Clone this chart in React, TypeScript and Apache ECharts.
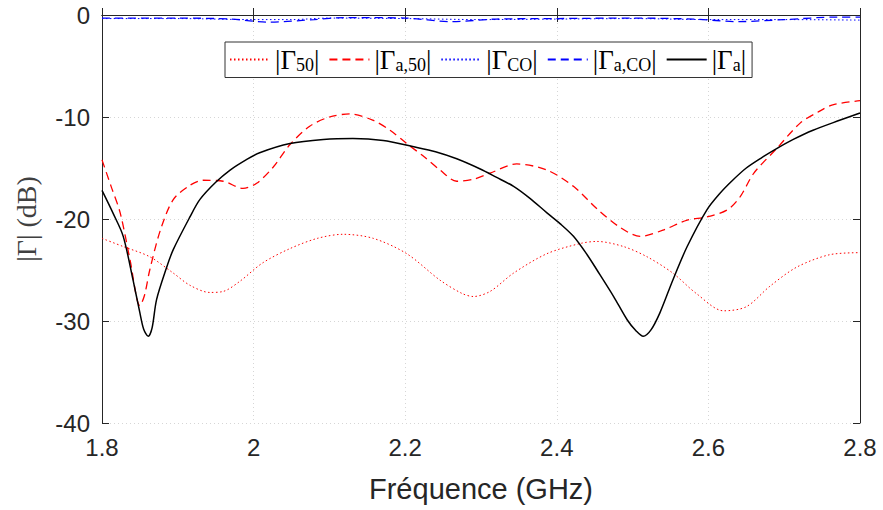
import React, { useEffect, useRef } from "react";
import * as echarts from "echarts";

// |Γ_50| (red dotted)
const freqG50 = [1.8, 1.828, 1.863, 1.894, 1.916, 1.942, 1.96, 1.982, 2.012, 2.048, 2.084, 2.118, 2.158, 2.202, 2.246, 2.275, 2.29, 2.312, 2.343, 2.387, 2.431, 2.453, 2.488, 2.519, 2.553, 2.584, 2.62, 2.65, 2.681, 2.717, 2.76, 2.8];
const valG50 = [-21.9, -22.7, -23.7, -25.3, -26.5, -27.2, -27.1, -26.1, -24.3, -22.9, -21.9, -21.5, -21.9, -23.4, -26.0, -27.3, -27.6, -27.1, -25.3, -23.4, -22.4, -22.2, -22.7, -23.7, -25.3, -27.3, -29.0, -28.6, -26.6, -24.7, -23.5, -23.3];

// |Γ_a,50| (red dashed)
const freqGa50 = [1.8, 1.812, 1.824, 1.837, 1.85, 1.856, 1.863, 1.877, 1.894, 1.916, 1.933, 1.96, 1.986, 2.004, 2.026, 2.048, 2.074, 2.1, 2.127, 2.157, 2.18, 2.202, 2.225, 2.246, 2.268, 2.29, 2.312, 2.347, 2.387, 2.422, 2.453, 2.483, 2.51, 2.54, 2.572, 2.598, 2.625, 2.642, 2.66, 2.69, 2.721, 2.745, 2.764, 2.8];
const valGa50 = [-14.2, -16.8, -19.4, -24.0, -28.5, -27.5, -25.0, -21.1, -18.1, -16.7, -16.2, -16.3, -17.0, -16.5, -14.9, -12.7, -10.9, -10.0, -9.7, -10.3, -11.3, -12.6, -13.9, -15.2, -16.3, -16.1, -15.5, -14.6, -15.2, -16.8, -19.0, -20.8, -21.7, -21.1, -20.1, -19.8, -19.1, -17.8, -15.5, -13.1, -10.6, -9.5, -8.8, -8.4];

// |Γ_CO| (blue dotted)
const freqGCO = [1.8, 1.9, 2.0, 2.05, 2.1, 2.2, 2.3, 2.4, 2.5, 2.6, 2.7, 2.8];
const valGCO = [-0.35, -0.35, -0.45, -0.45, -0.3, -0.35, -0.45, -0.4, -0.35, -0.45, -0.45, -0.5];

// |Γ_a,CO| (blue dashed)
const freqGaCO = [1.8, 1.9, 1.97, 2.02, 2.08, 2.12, 2.2, 2.26, 2.32, 2.4, 2.5, 2.58, 2.64, 2.7, 2.77, 2.8];
const valGaCO = [-0.3, -0.3, -0.4, -0.7, -0.45, -0.25, -0.3, -0.65, -0.4, -0.35, -0.3, -0.4, -0.65, -0.45, -0.2, -0.2];

// |Γ_a| (black solid)
const freqGa = [1.8, 1.815, 1.828, 1.841, 1.85, 1.855, 1.861, 1.866, 1.872, 1.885, 1.894, 1.916, 1.929, 1.95, 1.969, 1.99, 2.008, 2.048, 2.092, 2.131, 2.171, 2.21, 2.24, 2.268, 2.299, 2.32, 2.343, 2.365, 2.387, 2.405, 2.422, 2.44, 2.453, 2.475, 2.493, 2.505, 2.514, 2.524, 2.536, 2.553, 2.572, 2.598, 2.615, 2.632, 2.65, 2.67, 2.69, 2.712, 2.738, 2.774, 2.8];
const valGa = [-17.2, -19.5, -21.7, -26.0, -29.2, -30.8, -31.5, -30.7, -27.9, -24.8, -23.0, -19.8, -18.1, -16.4, -15.2, -14.2, -13.5, -12.6, -12.2, -12.1, -12.3, -12.9, -13.4, -14.1, -15.1, -15.9, -16.8, -18.0, -19.4, -20.5, -21.7, -23.5, -25.0, -27.6, -29.9, -31.0, -31.5, -30.9, -29.2, -26.0, -22.7, -19.1, -17.5, -16.2, -15.0, -14.0, -13.1, -12.2, -11.3, -10.3, -9.6];

const xTicks = { min: 1.8, max: 2.8, interval: 0.2 };
const yTicks = { min: -40, max: 0, interval: 10 };

const seriesNames = ["G50", "Ga50", "GCO", "GaCO", "Ga"];
const legendLabels: Record<string, string> = {
  G50: "{m||Γ}{s|50}{m||}",
  Ga50: "{m||Γ}{s|a,50}{m||}",
  GCO: "{m||Γ}{s|CO}{m||}",
  GaCO: "{m||Γ}{s|a,CO}{m||}",
  Ga: "{m||Γ}{s|a}{m||}",
};

const zip = (xs: number[], ys: number[]) => xs.map((x, i) => [x, ys[i]]);

const axisColor = "#262626";

export default function App() {
  const ref = useRef<HTMLDivElement>(null);
  useEffect(() => {
    const chart = echarts.init(ref.current!, null, { renderer: "svg" });
    const sansLabel = {
      fontFamily: "Liberation Sans",
      fontSize: 24,
      color: axisColor,
    };
    chart.setOption({
      animation: false,
      backgroundColor: "#ffffff",
      grid: { left: 102, right: 23, top: 15, bottom: 87, containLabel: false },
      legend: {
        data: seriesNames,
        left: 225,
        top: 42,
        orient: "horizontal",
        itemWidth: 40,
        itemHeight: 14,
        itemGap: 9,
        padding: [4, 6, 4, 4],
        borderColor: "#333333",
        borderWidth: 1,
        backgroundColor: "#ffffff",
        itemStyle: { opacity: 0 },
        formatter: (name: string) => legendLabels[name],
        textStyle: {
          fontFamily: "Liberation Serif",
          color: "#000000",
          rich: {
            m: { fontFamily: "Liberation Serif", fontSize: 27, lineHeight: 28, color: "#000" },
            s: { fontFamily: "Liberation Serif", fontSize: 18, lineHeight: 16, verticalAlign: "bottom", color: "#000" },
          },
        },
      },
      xAxis: [
        {
          type: "value",
          ...xTicks,
          position: "bottom",
          name: "Fréquence (GHz)",
          nameLocation: "middle",
          nameGap: 51,
          nameTextStyle: { fontFamily: "Liberation Sans", fontSize: 29, color: axisColor },
          axisLine: { show: true, lineStyle: { color: axisColor, width: 1 } },
          axisTick: { show: true, inside: true, length: 7, lineStyle: { color: axisColor } },
          axisLabel: { ...sansLabel, margin: 12 },
          splitLine: { show: true, lineStyle: { color: "#d6d6d6", type: [1, 3], width: 1 } },
        },
        {
          type: "value",
          ...xTicks,
          position: "top",
          axisLine: { show: true, lineStyle: { color: axisColor, width: 1 } },
          axisTick: { show: true, inside: true, length: 7, lineStyle: { color: axisColor } },
          axisLabel: { show: false },
          splitLine: { show: false },
        },
      ],
      yAxis: [
        {
          type: "value",
          ...yTicks,
          position: "left",
          name: "|Γ| (dB)",
          nameLocation: "middle",
          nameGap: 62,
          nameTextStyle: { fontFamily: "Liberation Serif", fontSize: 28, color: "#404040" },
          axisLine: { show: true, lineStyle: { color: axisColor, width: 1 } },
          axisTick: { show: true, inside: true, length: 7, lineStyle: { color: axisColor } },
          axisLabel: { ...sansLabel, margin: 12 },
          splitLine: { show: true, lineStyle: { color: "#d6d6d6", type: [1, 3], width: 1 } },
        },
        {
          type: "value",
          ...yTicks,
          position: "right",
          axisLine: { show: true, lineStyle: { color: axisColor, width: 1 } },
          axisTick: { show: true, inside: true, length: 7, lineStyle: { color: axisColor } },
          axisLabel: { show: false },
          splitLine: { show: false },
        },
      ],
      series: [
        {
          name: "G50",
          type: "line",
          data: zip(freqG50, valG50),
          smooth: 0.3,
          symbol: "none",
          lineStyle: { color: "#ff0000", width: 1, type: [1.5, 2.5] },
          itemStyle: { color: "#ff0000" },
        },
        {
          name: "Ga50",
          type: "line",
          data: zip(freqGa50, valGa50),
          smooth: 0.3,
          symbol: "none",
          lineStyle: { color: "#ff0000", width: 1.3, type: [8, 5] },
          itemStyle: { color: "#ff0000" },
        },
        {
          name: "GCO",
          type: "line",
          data: zip(freqGCO, valGCO),
          smooth: 0.3,
          symbol: "none",
          lineStyle: { color: "#0000ff", width: 1, type: [1.5, 2.5] },
          itemStyle: { color: "#0000ff" },
        },
        {
          name: "GaCO",
          type: "line",
          data: zip(freqGaCO, valGaCO),
          smooth: 0.3,
          symbol: "none",
          lineStyle: { color: "#0000ff", width: 1.3, type: [8, 5] },
          itemStyle: { color: "#0000ff" },
        },
        {
          name: "Ga",
          type: "line",
          data: zip(freqGa, valGa),
          smooth: 0.3,
          symbol: "none",
          lineStyle: { color: "#000000", width: 1.5, type: "solid" },
          itemStyle: { color: "#000000" },
        },
      ],
    });
    return () => chart.dispose();
  }, []);
  return (
    <div
      ref={ref}
      style={{ position: "fixed", left: 0, top: 0, width: 883, height: 510, background: "#fff" }}
    />
  );
}
